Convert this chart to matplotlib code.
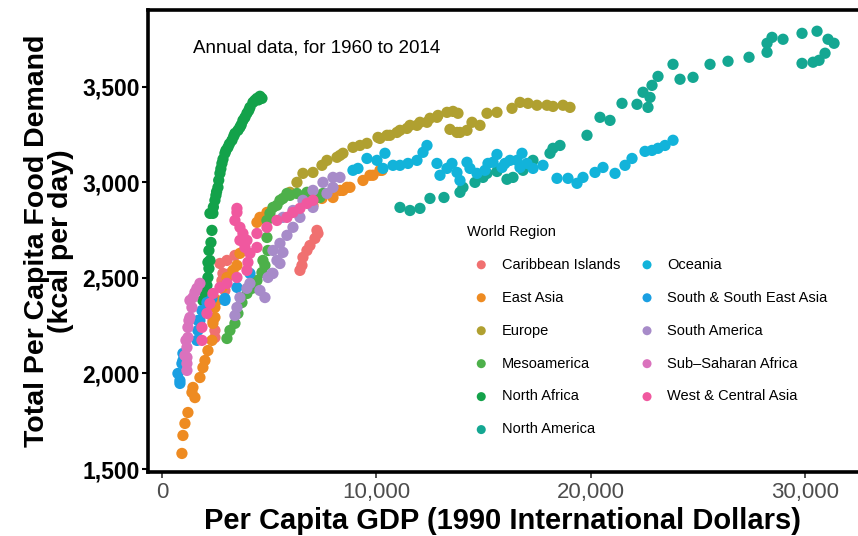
import matplotlib
matplotlib.use('Agg')
import matplotlib.pyplot as plt
from matplotlib.ticker import FuncFormatter

# values (GDP per capita, kcal per day)
caribbean_x = [6440, 6534, 6580, 6767, 6907, 7140, 7281, 7234, 2707, 2847, 2800, 3173, 3034, 2473, 2473, 2380, 3407, 2940]
caribbean_y = [2539, 2565, 2607, 2643, 2669, 2706, 2732, 2748, 2575, 2523, 2486, 2523, 2591, 2225, 2188, 2277, 2617, 2434]

east_asia_x = [933, 980, 1073, 1213, 1540, 1400, 1447, 1773, 1913, 2007, 2147, 2333, 2380, 2473, 2473, 2567, 2800, 3034,
               3314, 3500, 3640, 4434, 4573, 4667, 4900, 7047, 7467, 7981, 8307, 8447, 8634, 8773, 9381, 9707, 9847,
               10173, 10267]
east_asia_y = [1582, 1676, 1739, 1796, 1874, 1901, 1927, 1979, 2031, 2068, 2120, 2173, 2262, 2293, 2345, 2382, 2450, 2502,
               2539, 2565, 2628, 2790, 2816, 2811, 2842, 2879, 2915, 2920, 2957, 2957, 2973, 2973, 3009, 3036, 3036,
               3062, 3062]

europe_x = [5974, 6300, 6580, 7047, 7467, 7701, 8167, 8307, 8447, 8914, 9240, 9567, 10081, 10173, 10501, 10640, 10967,
            11107, 11434, 11574, 11901, 12040, 12368, 12507, 12834, 12881, 13301, 13581, 13814, 13440, 13768, 13907,
            14234, 14468, 14841, 15168, 15634, 16335, 16708, 17081, 17501, 17968, 18248, 18715, 19041]
europe_y = [2947, 2999, 3046, 3051, 3088, 3114, 3130, 3140, 3151, 3182, 3192, 3203, 3234, 3229, 3245, 3245, 3260,
            3271, 3281, 3297, 3297, 3313, 3313, 3334, 3339, 3349, 3365, 3370, 3360, 3276, 3260, 3260,
            3271, 3313, 3297, 3360, 3365, 3386, 3417, 3412, 3402, 3402, 3396, 3402, 3391]

meso_x = [3034, 3173, 3407, 3547, 3734, 3967, 4200, 4434, 4667, 4807, 4947, 4714, 4900, 4900, 5040, 5180, 5367, 5507,
          5647, 5834, 5974, 6300, 6767, 6907, 7373, 7514]
meso_y = [2183, 2225, 2262, 2314, 2371, 2418, 2445, 2486, 2528, 2565, 2643, 2591, 2711, 2800, 2837, 2868, 2879, 2905,
          2915, 2941, 2931, 2941, 2947, 2920, 2920, 2941]

n_africa_x = [1913, 2007, 2100, 2147, 2193, 2147, 2240, 2193, 2287, 2333, 2240, 2380, 2400, 2473, 2520, 2550, 2614,
              2650, 2707, 2750, 2800, 2850, 2940, 2987, 3080, 3150, 3267, 3350, 3407, 3547, 3640, 3700, 3780, 3874,
              3967, 4050, 4107, 4247, 4340, 4434, 4500, 4573, 4667]
n_africa_y = [2382, 2418, 2460, 2502, 2549, 2581, 2591, 2643, 2685, 2748, 2837, 2837, 2870, 2905, 2931, 2950, 2973,
              3010, 3046, 3070, 3098, 3120, 3151, 3166, 3182, 3200, 3219, 3240, 3255, 3271, 3287, 3300, 3323, 3339,
              3360, 3375, 3391, 3417, 3428, 3438, 3430, 3449, 3438]

n_america_x = [11107, 11574, 12040, 12507, 13160, 13907, 14047, 14607, 14981, 15168, 15634, 16101, 16381, 16848, 17314,
               18108, 18248, 18574, 19834, 20441, 20908, 21468, 22168, 22448, 22681, 22775, 22868, 23148, 23848, 24175,
               24782, 25575, 26415, 27395, 28235, 28235, 28468, 28981, 29868, 30568, 31081, 31362, 30942, 30662, 30382,
               29868]
n_america_y = [2868, 2852, 2863, 2915, 2920, 2947, 2973, 2999, 3025, 3046, 3056, 3015, 3025, 3062, 3114,
               3151, 3177, 3192, 3245, 3339, 3323, 3412, 3407, 3470, 3391, 3443, 3506, 3553, 3616, 3538,
               3548, 3616, 3632, 3653, 3679, 3726, 3757, 3747, 3778, 3789, 3747, 3726, 3674, 3637, 3627,
               3621]

oceania_x = [8914, 9147, 9567, 10034, 10407, 10314, 10781, 11107, 11481, 11901, 12181, 12368, 12834, 12974, 13301,
             13534, 13768, 13907, 14234, 14374, 14701, 15074, 15214, 15448, 15634, 15868, 16008, 16241, 16568, 16801,
             16708, 17035, 17315, 17781, 18435, 18948, 19368, 19648, 20208, 20581, 21142, 21608, 21935, 22542, 22868,
             23148, 23475, 23848]
oceania_y = [3062, 3072, 3124, 3114, 3151, 3072, 3088, 3088, 3098, 3114, 3156, 3192, 3098, 3036, 3072,
             3098, 3051, 3009, 3104, 3072, 3046, 3062, 3098, 3104, 3145, 3077, 3098, 3114, 3114, 3151,
             3077, 3098, 3072, 3088, 3020, 3020, 2994, 3025, 3051, 3077, 3046, 3088, 3124, 3161, 3166,
             3177, 3192, 3219]

ss_asia_x = [747, 840, 840, 933, 980, 980, 1633, 1680, 1680, 1773, 1867, 1913, 2100, 2333, 2940, 2940, 3500, 4107]
ss_asia_y = [2000, 1948, 1963, 2052, 2105, 2068, 2173, 2225, 2277, 2277, 2329, 2329, 2371, 2392, 2382, 2392, 2450, 2523]

s_america_x = [3407, 3500, 3640, 3967, 4107, 4573, 4807, 4947, 5134, 5180, 5367, 5180, 5507, 5647, 5507, 5834, 6114,
               6440, 5647, 6114, 6580, 7047, 7047, 7514, 7701, 7981, 7981, 8307]
s_america_y = [2303, 2345, 2397, 2445, 2471, 2434, 2397, 2502, 2523, 2523, 2591, 2643, 2575, 2633, 2680, 2722, 2764,
               2816, 2816, 2852, 2905, 2868, 2957, 2999, 2941, 2973, 3025, 3025]

ssa_x = [1167, 1167, 1167, 1167, 1213, 1213, 1307, 1400, 1447, 1633, 1773, 1073, 1307, 1540, 1120, 1260]
ssa_y = [2016, 2052, 2084, 2136, 2188, 2241, 2293, 2345, 2397, 2445, 2471, 2094, 2382, 2424, 2173, 2277]

wc_asia_x = [3500, 3640, 3780, 3967, 3874, 4107, 4014, 3967, 3500, 3034, 2707, 2380, 2240, 2100, 1867, 1867, 4434,
             4900, 5367, 5834, 6114, 6440, 6767, 7047, 4434, 3640, 3407, 3500]
wc_asia_y = [2842, 2764, 2732, 2696, 2659, 2628, 2581, 2539, 2502, 2471, 2450, 2418, 2366, 2314, 2241, 2173, 2732,
             2764, 2800, 2816, 2842, 2863, 2889, 2905, 2659, 2696, 2800, 2863]

regions = ['Caribbean Islands', 'East Asia', 'Europe', 'Mesoamerica', 'North Africa', 'North America',
           'Oceania', 'South & South East Asia', 'South America', 'Sub\u2013Saharan Africa', 'West & Central Asia']
colors = ['#F07070', '#EE8B22', '#B0A030', '#4DB04A', '#13A24A', '#14A792',
          '#12B3DA', '#1A9FE2', '#A78BC9', '#DA72BD', '#F0589F']
series = [(caribbean_x, caribbean_y), (east_asia_x, east_asia_y), (europe_x, europe_y), (meso_x, meso_y),
          (n_africa_x, n_africa_y), (n_america_x, n_america_y), (oceania_x, oceania_y), (ss_asia_x, ss_asia_y),
          (s_america_x, s_america_y), (ssa_x, ssa_y), (wc_asia_x, wc_asia_y)]

narrow = ['Liberation Sans Narrow', 'Liberation Sans', 'DejaVu Sans']
plt.rcParams['font.family'] = ['Liberation Sans', 'DejaVu Sans']

fig = plt.figure(figsize=(8.58, 5.36), dpi=100)
ax = fig.add_axes([148 / 858, 64 / 536, 1 - 148 / 858, 462 / 536])

for (xs, ys), name, c in zip(series, regions, colors):
    ax.scatter(xs, ys, s=66, color=c, edgecolors='none', label=name, zorder=3)

ax.set_xlim(-650, 32480)
ax.set_ylim(1485, 3900)
ax.set_xticks([0, 10000, 20000, 30000])
ax.set_yticks([1500, 2000, 2500, 3000, 3500])
fmt = FuncFormatter(lambda v, p: f'{int(v):,}')
ax.xaxis.set_major_formatter(fmt)
ax.yaxis.set_major_formatter(fmt)

for s in ['left', 'top', 'bottom']:
    ax.spines[s].set_linewidth(2.6)
ax.spines['right'].set_visible(False)
ax.tick_params(axis='y', length=4, width=1.5, pad=2, labelsize=16.5)
ax.tick_params(axis='x', length=4, width=1.2, color='#333333', pad=3, labelsize=16, labelcolor='#4D4D4D')
for lab in ax.get_yticklabels():
    lab.set_fontweight('bold')
for lab in ax.get_xticklabels():
    lab.set_family(narrow)

ax.set_xlabel('Per Capita GDP (1990 International Dollars)', family=narrow, fontweight='bold',
              fontsize=21, labelpad=3)
ax.set_ylabel('Total Per Capita Food Demand\n(kcal per day)', fontweight='bold', fontsize=20.5,
              linespacing=0.88, labelpad=6)

ax.text(0.063, 0.918, 'Annual data, for 1960 to 2014', transform=ax.transAxes, fontsize=13.5,
        va='center', ha='left')

leg = ax.legend(title='World Region', ncol=2, frameon=False, loc='upper left',
                bbox_to_anchor=(455 / 858, 1 - 213 / 536), bbox_transform=fig.transFigure,
                fontsize=10.5, title_fontsize=10.5, markerscale=0.8, handletextpad=0.4,
                columnspacing=0.85, labelspacing=1.3, borderpad=0.3)
leg._legend_box.align = 'left'

fig.savefig('out.png', dpi=100)
